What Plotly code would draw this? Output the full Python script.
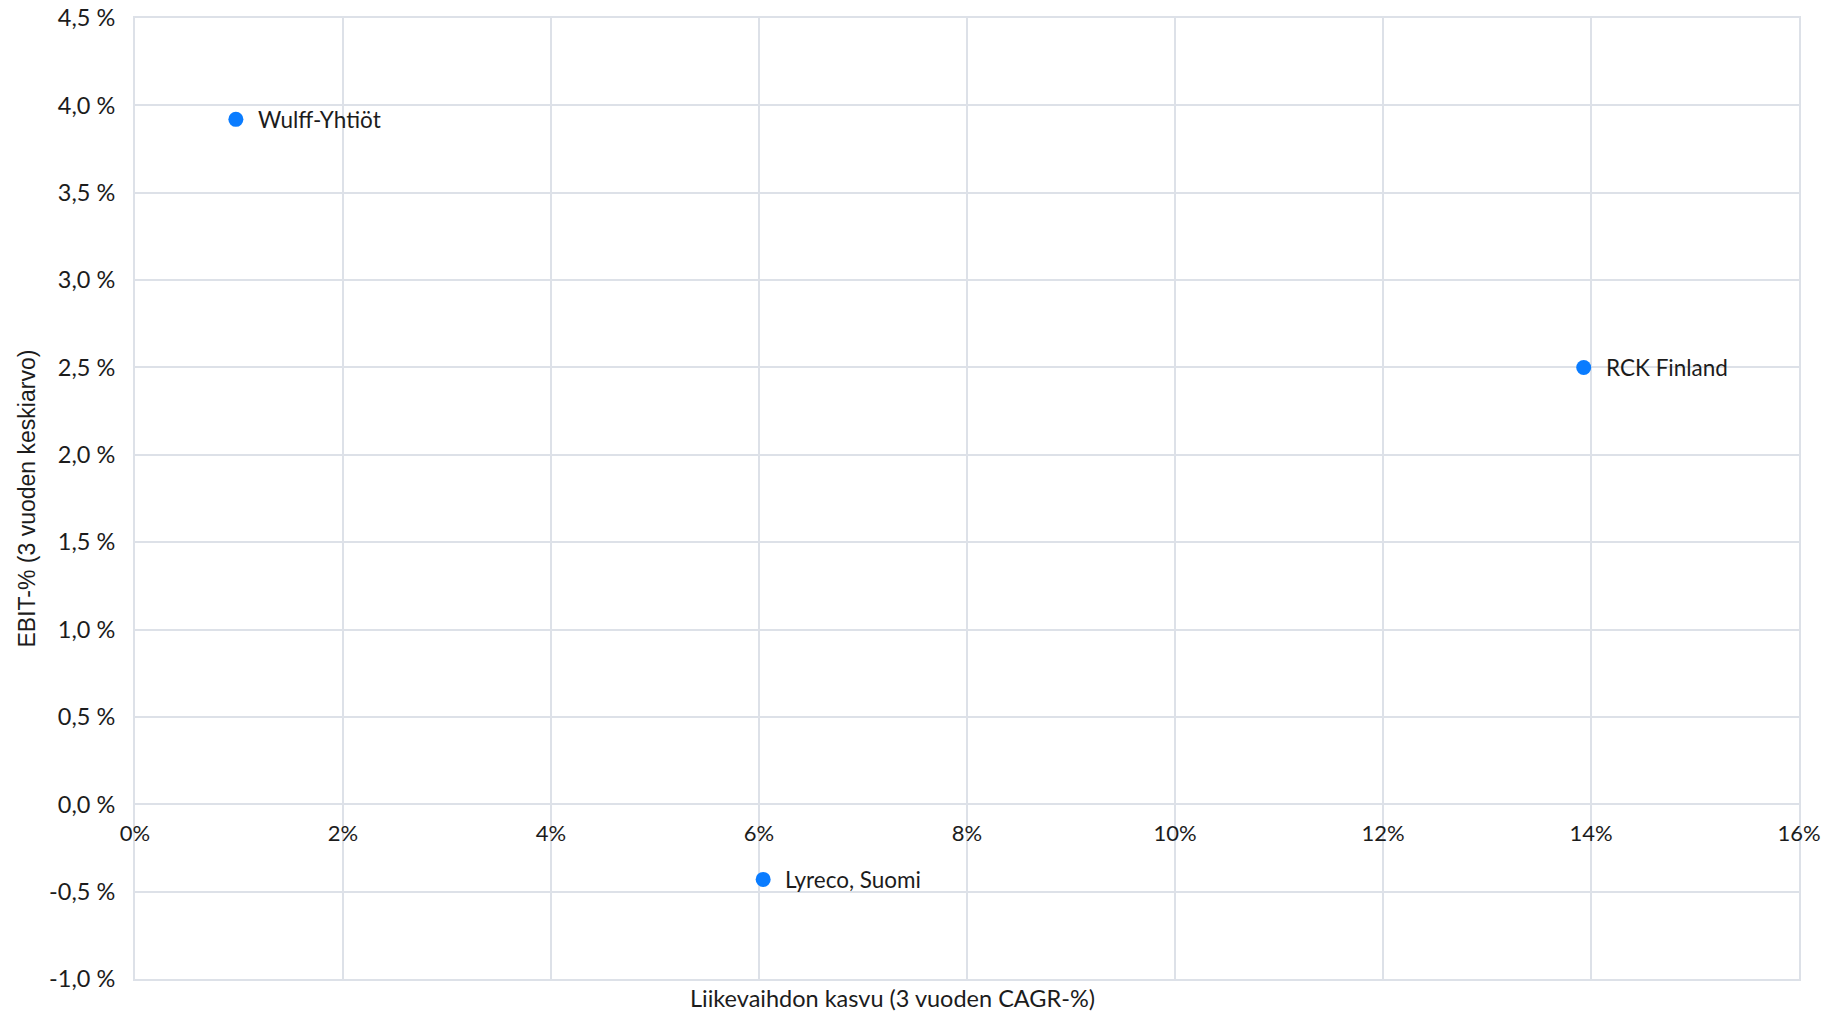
import plotly.graph_objects as go

companies = ["Wulff-Yhtiöt", "RCK Finland", "Lyreco, Suomi"]
growth = [0.97, 13.93, 6.04]      # Liikevaihdon kasvu (3 v CAGR-%)
ebit = [3.92, 2.50, -0.43]        # EBIT-% (3 v keskiarvo)

y_ticks = [-1.0, -0.5, 0.0, 0.5, 1.0, 1.5, 2.0, 2.5, 3.0, 3.5, 4.0, 4.5]
y_ticktext = [f"{v:.1f} %".replace(".", ",") for v in y_ticks]
x_ticks = [0, 2, 4, 6, 8, 10, 12, 14, 16]
x_ticktext = [f"{v}%" for v in x_ticks]

FONT = "Lato"
TXT = "#1c1c1c"
GRID = "#dde1e8"

fig = go.Figure()
fig.add_trace(go.Scatter(
    x=growth, y=ebit, mode="markers",
    marker=dict(size=15, color="#0a7cff"),
    hoverinfo="skip", showlegend=False, cliponaxis=False,
))

for name, gx, ey in zip(companies, growth, ebit):
    fig.add_annotation(x=gx, y=ey, text=name, showarrow=False,
                       xanchor="left", yanchor="middle", xshift=20,
                       font=dict(family=FONT, size=22.5, color=TXT))

fig.add_annotation(xref="paper", yref="paper", x=0.455, y=-0.02,
                   text="Liikevaihdon kasvu (3 vuoden CAGR-%)", showarrow=False,
                   xanchor="center", yanchor="middle",
                   font=dict(family=FONT, size=23.5, color=TXT))
fig.add_annotation(xref="paper", yref="paper", x=-0.0655, y=0.5,
                   text="EBIT-% (3 vuoden keskiarvo)", showarrow=False,
                   textangle=-90, xanchor="center", yanchor="middle",
                   font=dict(family="Liberation Sans", size=23, color=TXT))

fig.update_layout(
    width=1844, height=1012,
    margin=dict(l=135, r=45, t=18, b=33, autoexpand=False),
    paper_bgcolor="white", plot_bgcolor="white",
    font=dict(family=FONT, size=22, color=TXT),
    xaxis=dict(range=[0, 16], tickvals=x_ticks, ticktext=x_ticktext,
               showgrid=True, gridcolor=GRID, gridwidth=2, zeroline=False,
               showline=False, anchor="free", position=1/5.5,
               ticks="", ticklabelstandoff=14, automargin=False,
               tickfont=dict(family=FONT, size=22, color=TXT)),
    xaxis2=dict(range=[0, 16], overlaying="x", anchor="y", side="bottom",
                showgrid=False, zeroline=False, showticklabels=False,
                showline=True, linecolor=GRID, linewidth=2, mirror=True,
                ticks=""),
    yaxis=dict(range=[-1, 4.5], tickvals=y_ticks, ticktext=y_ticktext,
               showgrid=True, gridcolor=GRID, gridwidth=2, zeroline=False,
               showline=True, linecolor=GRID, linewidth=2, mirror=True,
               ticks="", ticklabelstandoff=13, automargin=False,
               ticklabeloverflow="allow",
               tickfont=dict(family=FONT, size=23.5, color=TXT)),
)
# invisible trace to activate the border axis
fig.add_trace(go.Scatter(x=[None], y=[None], xaxis="x2", yaxis="y",
                         showlegend=False, hoverinfo="skip"))

fig.write_html("out.html")
